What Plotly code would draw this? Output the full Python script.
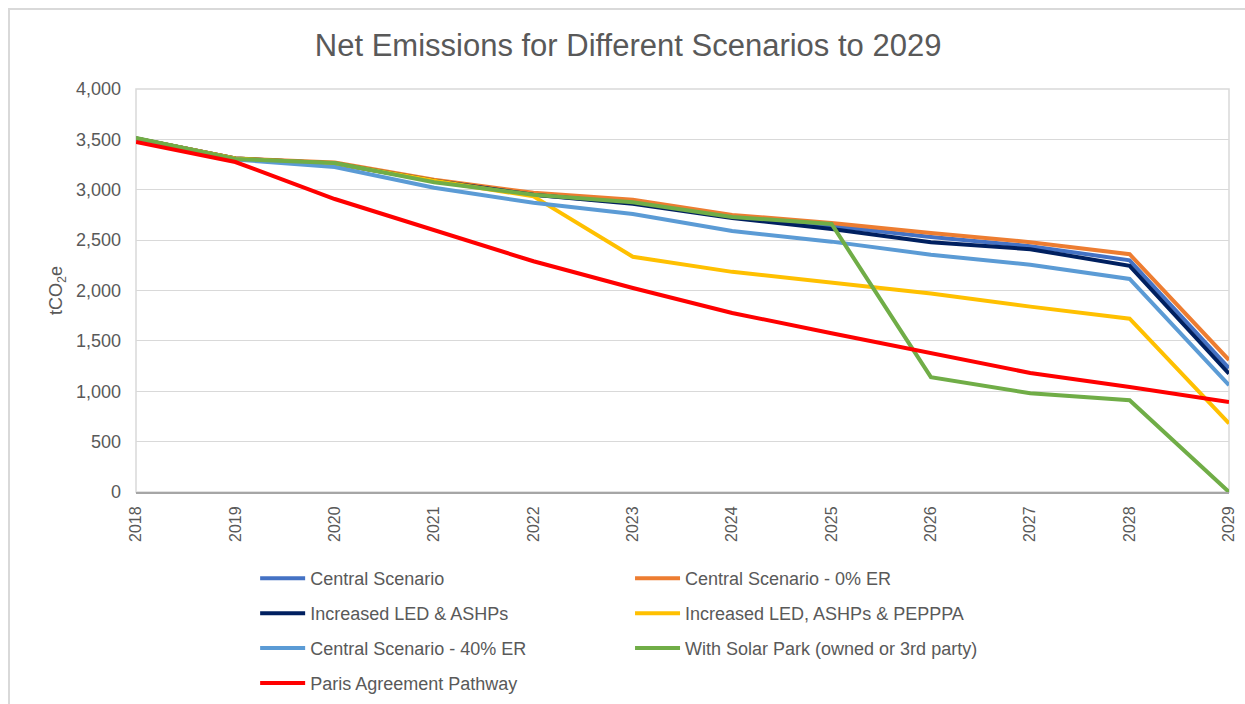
import plotly.graph_objects as go

years = list(range(2018, 2030))

central = [3510, 3310, 3260, 3090, 2950, 2870, 2730, 2640, 2530, 2440, 2300, 1230]
central_0er = [3510, 3310, 3270, 3100, 2970, 2900, 2750, 2670, 2570, 2480, 2360, 1310]
led_ashp = [3510, 3310, 3260, 3090, 2950, 2860, 2720, 2610, 2480, 2410, 2245, 1175]
led_ashp_pepppa = [3510, 3310, 3260, 3090, 2935, 2335, 2185, 2075, 1970, 1840, 1720, 680]
central_40er = [3510, 3300, 3225, 3020, 2870, 2760, 2590, 2485, 2355, 2255, 2115, 1060]
solar_park = [3515, 3305, 3265, 3075, 2950, 2875, 2730, 2660, 1140, 980, 910, 0]
paris = [3475, 3275, 2908, 2600, 2290, 2025, 1777, 1575, 1375, 1181, 1042, 893]

series = [
    ("Central Scenario", central, "#4472C4", "legend"),
    ("Central Scenario - 0% ER", central_0er, "#ED7D31", "legend2"),
    ("Increased LED & ASHPs", led_ashp, "#002060", "legend"),
    ("Increased LED, ASHPs & PEPPPA", led_ashp_pepppa, "#FFC000", "legend2"),
    ("Central Scenario - 40% ER", central_40er, "#5B9BD5", "legend"),
    ("With Solar Park (owned or 3rd party)", solar_park, "#70AD47", "legend2"),
    ("Paris Agreement Pathway", paris, "#FF0000", "legend"),
]

FONT = "Liberation Sans, Arial, sans-serif"
GREY = "#595959"

fig = go.Figure()
for i, (name, vals, color, lg) in enumerate(series):
    fig.add_trace(go.Scatter(
        x=years, y=vals, name=name, mode="lines",
        line=dict(color=color, width=4),
        legend=lg, legendgroup=f"g{i}",
        cliponaxis=False,
    ))

legend_common = dict(
    orientation="v", yanchor="top", xanchor="left",
    font=dict(family=FONT, size=18, color=GREY),
    tracegroupgap=8.5, itemwidth=45, bgcolor="rgba(0,0,0,0)",
)

fig.update_layout(
    width=1245, height=704,
    margin=dict(l=136, r=16, t=89, b=212, autoexpand=False),
    paper_bgcolor="white", plot_bgcolor="white",
    title=dict(text="Net Emissions for Different Scenarios to 2029",
               x=0.5045, xanchor="center", y=0.936, yanchor="middle",
               font=dict(family=FONT, size=31, color=GREY)),
    legend=dict(x=0.109, y=-0.169, **legend_common),
    legend2=dict(x=0.452, y=-0.169, **legend_common),
    xaxis=dict(
        range=[2018, 2029], tickmode="array", tickvals=years,
        ticktext=[str(y) for y in years], tickangle=-90,
        showgrid=False, zeroline=False,
        showline=True, linecolor="#A6A6A6", linewidth=2,
        ticks="", ticklabelstandoff=6,
        tickfont=dict(family=FONT, size=16, color=GREY),
    ),
    yaxis=dict(
        range=[0, 4000], dtick=500, tickformat=",",
        showgrid=True, gridcolor="#D9D9D9", gridwidth=1,
        zeroline=False, showline=False, ticks="",
        ticklabelstandoff=14,
        tickfont=dict(family=FONT, size=18, color=GREY),
        title=dict(text="tCO<sub>2</sub>e", standoff=8,
                   font=dict(family=FONT, size=18, color=GREY)),
    ),
    shapes=[
        dict(type="rect", xref="x domain", yref="y domain",
             x0=0, x1=1, y0=0, y1=1, line=dict(color="#D9D9D9", width=1.5),
             layer="below"),
        dict(type="rect", xref="paper", yref="paper",
             x0=-0.1162, x1=1.05, y0=-0.8, y1=1.1985,
             line=dict(color="#D9D9D9", width=2), layer="below"),
    ],
)

fig.write_html("out.html")
